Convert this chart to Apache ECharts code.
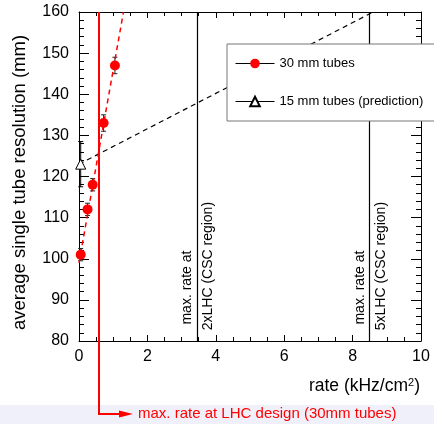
<!DOCTYPE html>
<html>
<head>
<meta charset="utf-8">
<script src="https://cdn.jsdelivr.net/npm/echarts@6/dist/echarts.min.js"></script>
<style>
html, body { margin: 0; padding: 0; background: #fff; }
#main { width: 434px; height: 424px; }
</style>
</head>
<body>
<div id="main"></div>
<script>
// measured points, 30 mm tubes
var rate30 = [0.05, 0.25, 0.4, 0.72, 1.05];
var res30 = [101, 112, 118, 133, 147];
var err30 = [1.5, 1.5, 1.5, 2, 2];
// prediction, 15 mm tubes
var rate15 = [0.05];
var res15 = [123];
var err15 = [5.5];
// dashed extrapolations
var fit30X = [0, 1.3], fit30Y = [99, 160];
var fit15X = [0, 8.6], fit15Y = [123, 160];
// rate markers
var cscRates = [3.45, 8.5];
var cscLabels = ['2xLHC (CSC region)', '5xLHC (CSC region)'];
var lhcRate = 0.58;

var FONT = 'Liberation Sans';

function pairs(xs, ys) {
    var out = [];
    for (var i = 0; i < xs.length; i++) out.push([xs[i], ys[i]]);
    return out;
}
function triples(xs, ys, es) {
    var out = [];
    for (var i = 0; i < xs.length; i++) out.push([xs[i], ys[i], es[i]]);
    return out;
}

function errRender(color) {
    return function(params, api) {
        var x = api.value(0), y = api.value(1), e = api.value(2);
        var lo = api.coord([x, y - e]), hi = api.coord([x, y + e]);
        var st = {stroke: color, lineWidth: 1};
        return {
            type: 'group',
            children: [
                {type: 'line', shape: {x1: lo[0], y1: lo[1], x2: hi[0], y2: hi[1]}, style: st},
                {type: 'line', shape: {x1: lo[0] - 2.5, y1: lo[1], x2: lo[0] + 2.5, y2: lo[1]}, style: st},
                {type: 'line', shape: {x1: hi[0] - 2.5, y1: hi[1], x2: hi[0] + 2.5, y2: hi[1]}, style: st}
            ]
        };
    };
}

function axisLine() {
    return {show: true, onZero: false, lineStyle: {color: '#000', width: 1}};
}

var chart = echarts.init(document.getElementById('main'));
chart.setOption({
    animation: false,
    textStyle: {fontFamily: FONT},
    grid: {left: 79, right: 13, top: 12, bottom: 83},
    legend: {
        orient: 'vertical',
        left: 227,
        top: 44,
        z: 20,
        padding: [13, 20, 13, 8],
        itemWidth: 39,
        itemHeight: 12,
        itemGap: 25,
        backgroundColor: '#fff',
        borderColor: '#777',
        borderWidth: 1,
        borderRadius: 0,
        textStyle: {fontSize: 13, color: '#000', fontFamily: FONT},
        lineStyle: {color: '#000', width: 1, opacity: 1},
        data: ['30 mm tubes', '15 mm tubes (prediction)']
    },
    xAxis: [
        {
            type: 'value', min: 0, max: 10, interval: 2, position: 'bottom',
            axisLine: axisLine(), splitLine: {show: false},
            axisTick: {inside: true, length: 6, lineStyle: {color: '#000'}},
            minorTick: {show: true, splitNumber: 4, length: 4, lineStyle: {color: '#000'}},
            axisLabel: {color: '#000', fontSize: 16, margin: 8, fontFamily: FONT},
            name: 'rate (kHz/cm{sup|2})',
            nameLocation: 'end',
            nameGap: -1,
            nameTextStyle: {
                color: '#000', fontSize: 17.5, fontFamily: FONT,
                align: 'right', verticalAlign: 'top', padding: [36, 0, 0, 0],
                rich: {sup: {fontSize: 11, verticalAlign: 'top', padding: [0, 0, 8, 0], color: '#000', fontFamily: FONT}}
            }
        },
        {
            type: 'value', min: 0, max: 10, interval: 2, position: 'top',
            axisLine: axisLine(), splitLine: {show: false},
            axisTick: {inside: true, length: 6, lineStyle: {color: '#000'}},
            minorTick: {show: true, splitNumber: 4, length: 4, lineStyle: {color: '#000'}},
            axisLabel: {show: false}
        }
    ],
    yAxis: [
        {
            type: 'value', min: 80, max: 160, interval: 10, position: 'left',
            axisLine: axisLine(), splitLine: {show: false},
            axisTick: {inside: true, length: 10, lineStyle: {color: '#000'}},
            minorTick: {show: true, splitNumber: 5, length: 5, lineStyle: {color: '#000'}},
            axisLabel: {color: '#000', fontSize: 16, margin: 10, fontFamily: FONT},
            name: 'average single tube resolution (mm)',
            nameLocation: 'middle',
            nameGap: 50,
            nameTextStyle: {color: '#000', fontSize: 18.5, fontFamily: FONT, padding: [0, 12, 0, 0]}
        },
        {
            type: 'value', min: 80, max: 160, interval: 10, position: 'right',
            axisLine: axisLine(), splitLine: {show: false},
            axisTick: {inside: true, length: 10, lineStyle: {color: '#000'}},
            minorTick: {show: true, splitNumber: 5, length: 5, lineStyle: {color: '#000'}},
            axisLabel: {show: false}
        }
    ],
    series: [
        {
            name: 'csc', type: 'line', data: [], silent: true,
            markLine: {
                symbol: 'none', silent: true, animation: false,
                label: {show: false},
                lineStyle: {color: '#000', width: 1.2, type: 'solid'},
                data: cscRates.map(function(r) { return {xAxis: r}; })
            }
        },
        {
            name: 'fit15', type: 'line', data: pairs(fit15X, fit15Y),
            showSymbol: false, symbol: 'none', silent: true,
            lineStyle: {color: '#000', width: 1.2, type: [5, 4]}
        },
        {
            name: 'fit30', type: 'line', data: pairs(fit30X, fit30Y),
            showSymbol: false, symbol: 'none', silent: true,
            lineStyle: {color: '#f00', width: 1.5, type: [5, 4]}
        },
        {
            name: 'err30', type: 'custom', renderItem: errRender('#222'),
            data: triples(rate30, res30, err30), silent: true, z: 3
        },
        {
            name: 'err15', type: 'custom', renderItem: errRender('#000'),
            data: triples(rate15, res15, err15), silent: true, z: 3
        },
        {
            name: '30 mm tubes', type: 'line', data: pairs(rate30, res30),
            symbol: 'circle', symbolSize: 10, showSymbol: true, z: 4,
            itemStyle: {color: '#f00'},
            lineStyle: {opacity: 0, width: 0}
        },
        {
            name: '15 mm tubes (prediction)', type: 'line', data: pairs(rate15, res15),
            symbol: 'triangle', symbolSize: 10, showSymbol: true, z: 4,
            itemStyle: {color: '#fff', borderColor: '#000', borderWidth: 1},
            lineStyle: {opacity: 0, width: 0}
        }
    ]
});

// annotations placed from data coordinates
var lhcTop = chart.convertToPixel({gridIndex: 0}, [lhcRate, 160]);
var lx = Math.round(lhcTop[0]);
var arrowY = 414;
var tipX = 133;
var graphics = [
    {type: 'rect', silent: true, z: -10, shape: {x: 0, y: 405, width: 434, height: 19}, style: {fill: '#f0f0fa'}},
    {type: 'line', silent: true, z: 10, shape: {x1: lx, y1: lhcTop[1], x2: lx, y2: arrowY + 1}, style: {stroke: '#f00', lineWidth: 2}},
    {type: 'line', silent: true, z: 10, shape: {x1: lx - 1, y1: arrowY, x2: tipX - 10, y2: arrowY}, style: {stroke: '#f00', lineWidth: 2}},
    {type: 'polygon', silent: true, z: 10, shape: {points: [[tipX - 14, arrowY - 3.5], [tipX, arrowY], [tipX - 14, arrowY + 3.5]]},
        style: {fill: '#f00'}},
    {type: 'text', silent: true, z: 10, x: tipX + 5, y: arrowY,
        style: {text: 'max. rate at LHC design (30mm tubes)', fill: '#f00', font: '15px "' + FONT + '"', textVerticalAlign: 'middle'}}
];
cscRates.forEach(function(r, i) {
    var pL = chart.convertToPixel({gridIndex: 0}, [r, 84]);
    var pR = chart.convertToPixel({gridIndex: 0}, [r, 82.6]);
    graphics.push({type: 'text', silent: true, z: 10, x: pL[0] - 3, y: pL[1], rotation: Math.PI / 2,
        style: {text: 'max. rate at', fill: '#000', font: '14px "' + FONT + '"', textAlign: 'left', textVerticalAlign: 'bottom'}});
    graphics.push({type: 'text', silent: true, z: 10, x: pR[0] + 4, y: pR[1], rotation: Math.PI / 2,
        style: {text: cscLabels[i], fill: '#000', font: '14px "' + FONT + '"', textAlign: 'left', textVerticalAlign: 'top'}});
});
chart.setOption({graphic: graphics});
</script>
</body>
</html>
